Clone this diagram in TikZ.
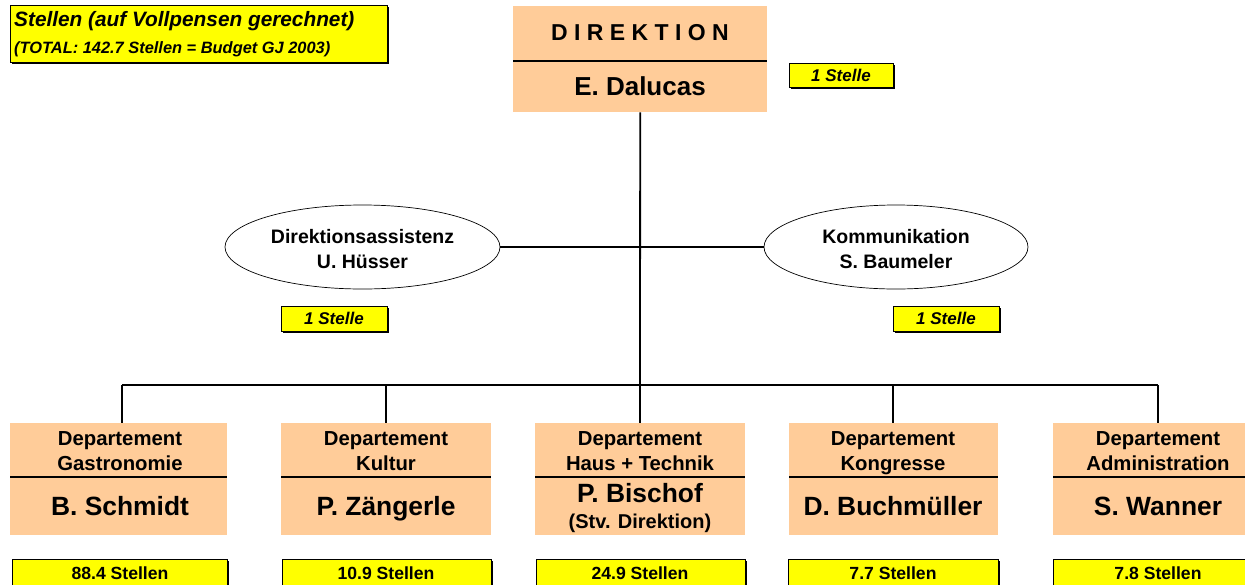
\documentclass[tikz,border=0pt]{standalone}
\usepackage{fontspec}
\setmainfont{Liberation Sans}
\usetikzlibrary{shapes.geometric,shadows}
\definecolor{peach}{HTML}{FFCC99}
\definecolor{yel}{HTML}{FFFF00}
\newcommand{\fs}[1]{\fontsize{#1}{#1}\selectfont}
\begin{document}
\begin{tikzpicture}[x=1pt,y=-1pt,
  pbox/.style={fill=peach,draw=none,inner sep=0pt,anchor=north west},
  tag/.style={fill=yel,draw=black,line width=1.4pt,inner sep=0pt,anchor=north west,
    drop shadow={shadow xshift=1.6pt,shadow yshift=-1.6pt,fill=black,opacity=1}},
  txt/.style={inner sep=0pt,anchor=base,font=\bfseries},
  conn/.style={line width=1.8pt,black},
  divl/.style={line width=2pt,black},
  oval/.style={ellipse,draw=black,line width=0.7pt,fill=white,inner sep=0pt}]
\useasboundingbox (0,0) rectangle (1245,584);
\clip (0,0) rectangle (1245,584);
% legend
\node[tag,minimum width=377pt,minimum height=57pt] (leg) at (10,5) {};
\node[txt,anchor=base west,font=\bfseries\itshape\fs{20.8}] (leg1) at (14,26) {Stellen (auf Vollpensen gerechnet)};
\node[txt,anchor=base west,font=\bfseries\itshape\fs{16.4}] (leg2) at (14,53) {(TOTAL: 142.7 Stellen = Budget GJ 2003)};
% Direktion
\node[pbox,minimum width=254pt,minimum height=106pt] (dir) at (513,6) {};
\draw[divl] (513,61) -- (767,61);
\node[txt,font=\bfseries\fs{23}] (dirt) at (640,40.5) {D I R E K T I O N};
\node[txt,font=\bfseries\fs{26}] (dirn) at (640,95.5) {E. Dalucas};
\node[tag,minimum width=104pt,minimum height=24pt] (tdir) at (789,63) {};
\node[txt,font=\bfseries\itshape\fs{17}] (tdirt) at (841,81) {1 Stelle};
% ellipses
\node[oval,minimum width=275pt,minimum height=84pt] (ea) at (362.5,247) {};
\node[txt,font=\bfseries\fs{19.5}] (ea1) at (362.5,243.3) {Direktionsassistenz};
\node[txt,font=\bfseries\fs{19.5}] (ea2) at (362.5,268.3) {U. Hüsser};
\node[oval,minimum width=264pt,minimum height=84pt] (ek) at (896,247) {};
\node[txt,font=\bfseries\fs{19.5}] (ek1) at (896,243.3) {Kommunikation};
\node[txt,font=\bfseries\fs{19.5}] (ek2) at (896,268.3) {S. Baumeler};
\node[tag,minimum width=106pt,minimum height=25pt] (tea) at (281,306) {};
\node[txt,font=\bfseries\itshape\fs{17}] (teat) at (334,324.5) {1 Stelle};
\node[tag,minimum width=106pt,minimum height=25pt] (tek) at (893,306) {};
\node[txt,font=\bfseries\itshape\fs{17}] (tekt) at (946,324.5) {1 Stelle};
% departments
\node[pbox,minimum width=217pt,minimum height=112pt] (d1) at (10,423) {};
\node[pbox,minimum width=210pt,minimum height=112pt] (d2) at (281,423) {};
\node[pbox,minimum width=210pt,minimum height=112pt] (d3) at (535,423) {};
\node[pbox,minimum width=209pt,minimum height=112pt] (d4) at (789,423) {};
\node[pbox,minimum width=210pt,minimum height=112pt] (d5) at (1053,423) {};
\foreach \n in {1,...,5}{\draw[divl] (d\n.west |- 0,477) -- (d\n.east |- 0,477);}
\foreach \n/\x/\t in {1/120/Gastronomie,2/386/Kultur,3/640/Haus + Technik,4/893/Kongresse,5/1158/Administration}{
  \node[txt,font=\bfseries\fs{20.3}] (ha\n) at (\x,445.5) {Departement};
  \node[txt,font=\bfseries\fs{20.3}] (hb\n) at (\x,470.5) {\t};
}
\node[txt,font=\bfseries\fs{26.4}] (n1) at (120,515) {B. Schmidt};
\node[txt,font=\bfseries\fs{26.4}] (n2) at (386,515) {P. Zängerle};
\node[txt,font=\bfseries\fs{26.4}] (n3) at (640,502) {P. Bischof};
\node[txt,font=\bfseries\fs{20}] (n3b) at (640,528) {(Stv. Direktion)};
\node[txt,font=\bfseries\fs{26.4}] (n4) at (893,515) {D. Buchmüller};
\node[txt,font=\bfseries\fs{26.4}] (n5) at (1158,515) {S. Wanner};
% bottom tags
\node[tag,minimum width=215pt,minimum height=32pt] (s1) at (12,559) {};
\node[tag,minimum width=209pt,minimum height=32pt] (s2) at (282,559) {};
\node[tag,minimum width=209pt,minimum height=32pt] (s3) at (536,559) {};
\node[tag,minimum width=210pt,minimum height=32pt] (s4) at (788,559) {};
\node[tag,minimum width=210pt,minimum height=32pt] (s5) at (1053,559) {};
\foreach \n/\x/\t in {1/120/88.4,2/386/10.9,3/640/24.9,4/893/7.7,5/1158/7.8}{
  \node[txt,font=\bfseries\fs{17.6}] (st\n) at (\x,579.5) {\t\ Stellen};
}
% connectors
\coordinate (b1) at (122,385);
\coordinate (b2) at (386,385);
\coordinate (b3) at (640,385);
\coordinate (b4) at (893,385);
\coordinate (b5) at (1158,385);
\draw[conn] (dir.south) -- (b3);
\draw[conn] (ea.east) -- (ek.west);
\draw[conn] (b1) -- (b5);
\foreach \n in {1,...,5}{\draw[conn] (b\n) -- (b\n |- d\n.north);}
\end{tikzpicture}
\end{document}
